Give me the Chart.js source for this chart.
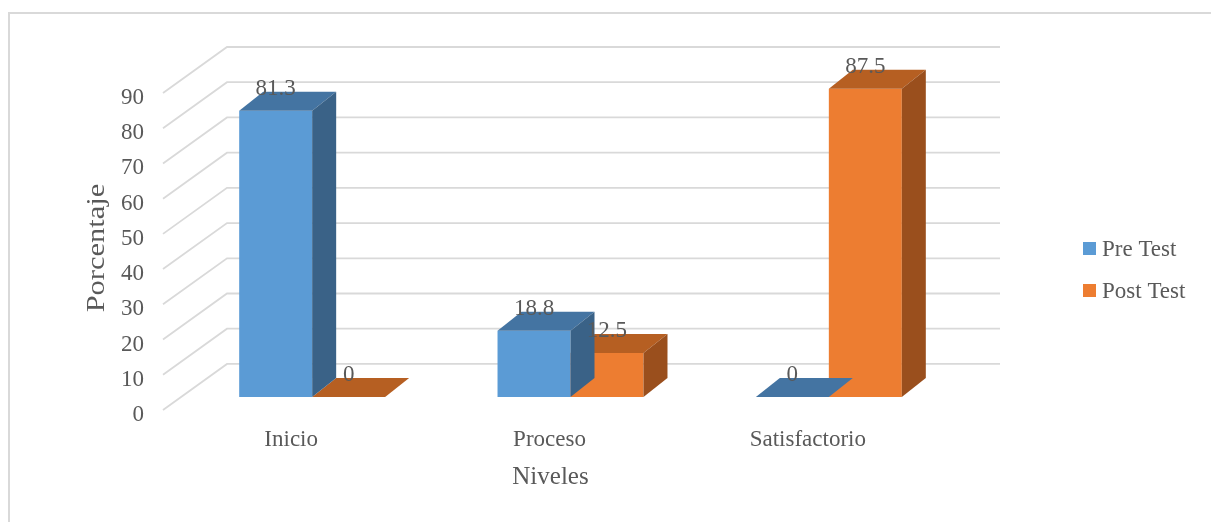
<!DOCTYPE html>
<html>
<head>
<meta charset="utf-8">
<script src="https://cdn.jsdelivr.net/npm/chart.js@4/dist/chart.umd.min.js"></script>
<style>
  html, body { margin: 0; padding: 0; background: #fff; }
  body { width: 1211px; height: 522px; position: relative; overflow: hidden; }
  #frame { position: absolute; left: 8px; top: 12px; width: 1400px; height: 700px;
           border: 2px solid #d9d9d9; box-sizing: border-box; }
  canvas { position: absolute; left: 0; top: 0; }
</style>
</head>
<body>
<div id="frame"></div>
<canvas id="chart" width="1211" height="522"></canvas>
<script>
// Levels of achievement and percentage of students, before and after the test
const CATEGORIES = ['Inicio', 'Proceso', 'Satisfactorio'];
const PRE_TEST = [81.3, 18.8, 0];
const POST_TEST = [0, 12.5, 87.5];
const SERIES_NAMES = ['Pre Test', 'Post Test'];
const Y_TICKS = [0, 10, 20, 30, 40, 50, 60, 70, 80, 90];
const AXIS_X_TITLE = 'Niveles';
const AXIS_Y_TITLE = 'Porcentaje';

const TEXT = '#595959';
const FONT = 'Liberation Serif';
const FRONT = ['#5B9BD5', '#ED7D31'];
const TOP = ['#4474A2', '#B65F22'];
const SIDE = ['#3A6287', '#9A4F1D'];

// oblique depth of the box faces and of the floor/back wall
const DEPTH_X = 24, DEPTH_Y = -19;
const WALL = { frontX: -20, frontY: 13, backX: 44, backY: -33, backRight: 42 };

Chart.defaults.font.family = FONT;
Chart.defaults.font.size = 23;
Chart.defaults.color = TEXT;

const depth3d = {
  id: 'depth3d',
  beforeDatasetsDraw(chart) {
    const { ctx, chartArea: a, scales: { y } } = chart;
    ctx.save();
    ctx.strokeStyle = '#d9d9d9';
    ctx.lineWidth = 1.8;
    Y_TICKS.forEach(v => {
      const py = y.getPixelForValue(v);
      ctx.beginPath();
      ctx.moveTo(a.left + WALL.frontX, py + WALL.frontY);
      ctx.lineTo(a.left + WALL.backX, py + WALL.backY);
      ctx.lineTo(a.right + WALL.backRight, py + WALL.backY);
      ctx.stroke();
    });
    ctx.restore();
  },
  afterDatasetDraw(chart, args) {
    const { ctx } = chart;
    const i = args.index;
    ctx.save();
    args.meta.data.forEach(el => {
      const { x, y, base, width } = el.getProps(['x', 'y', 'base', 'width'], true);
      const l = x - width / 2, r = x + width / 2;
      // top face
      ctx.fillStyle = TOP[i];
      ctx.beginPath();
      ctx.moveTo(l, y);
      ctx.lineTo(r, y);
      ctx.lineTo(r + DEPTH_X, y + DEPTH_Y);
      ctx.lineTo(l + DEPTH_X, y + DEPTH_Y);
      ctx.closePath();
      ctx.fill();
      // right side face
      if (base - y > 0.5) {
        ctx.fillStyle = SIDE[i];
        ctx.beginPath();
        ctx.moveTo(r, y);
        ctx.lineTo(r + DEPTH_X, y + DEPTH_Y);
        ctx.lineTo(r + DEPTH_X, base + DEPTH_Y);
        ctx.lineTo(r, base);
        ctx.closePath();
        ctx.fill();
      }
    });
    ctx.restore();
  },
  afterDatasetsDraw(chart) {
    const { ctx } = chart;
    ctx.save();
    ctx.fillStyle = TEXT;
    ctx.font = '23px "' + FONT + '"';
    ctx.textAlign = 'center';
    ctx.textBaseline = 'middle';
    chart.data.datasets.forEach((ds, di) => {
      chart.getDatasetMeta(di).data.forEach((el, j) => {
        const { x, y } = el.getProps(['x', 'y'], true);
        ctx.fillText(String(ds.data[j]), x, y - 22);
      });
    });
    ctx.restore();
  },
  afterDraw(chart) {
    const { ctx, chartArea: a } = chart;
    ctx.save();
    ctx.fillStyle = TEXT;
    ctx.textBaseline = 'middle';
    ctx.textAlign = 'center';
    // value axis title, set upright along the left wall
    ctx.save();
    ctx.translate(97, 248);
    ctx.rotate(-Math.PI / 2);
    ctx.scale(1.22, 1);
    ctx.font = '25px "' + FONT + '"';
    ctx.fillText(AXIS_Y_TITLE, 0, 0);
    ctx.restore();
    // category axis title, on the front edge of the floor
    ctx.font = '25px "' + FONT + '"';
    ctx.fillText(AXIS_X_TITLE, (a.left + a.right) / 2 + WALL.frontX, 477);
    // legend
    ctx.font = '23px "' + FONT + '"';
    ctx.textAlign = 'left';
    chart.data.datasets.forEach((ds, k) => {
      const cy = 249 + k * 42;
      ctx.fillStyle = ds.backgroundColor;
      ctx.fillRect(a.right + 125, cy - 7, 13, 13);
      ctx.fillStyle = TEXT;
      ctx.fillText(ds.label, a.right + 144, cy + 1);
    });
    ctx.restore();
  }
};

new Chart(document.getElementById('chart'), {
  type: 'bar',
  data: {
    labels: CATEGORIES,
    datasets: [
      { label: SERIES_NAMES[0], data: PRE_TEST, backgroundColor: FRONT[0], borderWidth: 0 },
      { label: SERIES_NAMES[1], data: POST_TEST, backgroundColor: FRONT[1], borderWidth: 0 }
    ]
  },
  options: {
    responsive: false,
    devicePixelRatio: 1,
    animation: false,
    layout: { padding: { left: 0, top: 41, right: 253, bottom: 0 } },
    datasets: { bar: { barPercentage: 1, categoryPercentage: 0.565 } },
    plugins: { legend: { display: false }, tooltip: { enabled: false } },
    scales: {
      x: {
        grid: { display: false },
        border: { display: false },
        ticks: { padding: 8, labelOffset: -21, autoSkip: false, maxRotation: 0, font: { size: 23 } },
        afterFit(s) { s.height = 112; }
      },
      y: {
        min: -13 / 3.5,
        max: 100,
        grid: { display: false },
        border: { display: false },
        afterBuildTicks(s) { s.ticks = Y_TICKS.map(v => ({ value: v })); },
        ticks: { padding: 31, labelOffset: 18, font: { size: 23 } },
        afterFit(s) { s.width = 183; }
      }
    }
  },
  plugins: [depth3d]
});
</script>
</body>
</html>
